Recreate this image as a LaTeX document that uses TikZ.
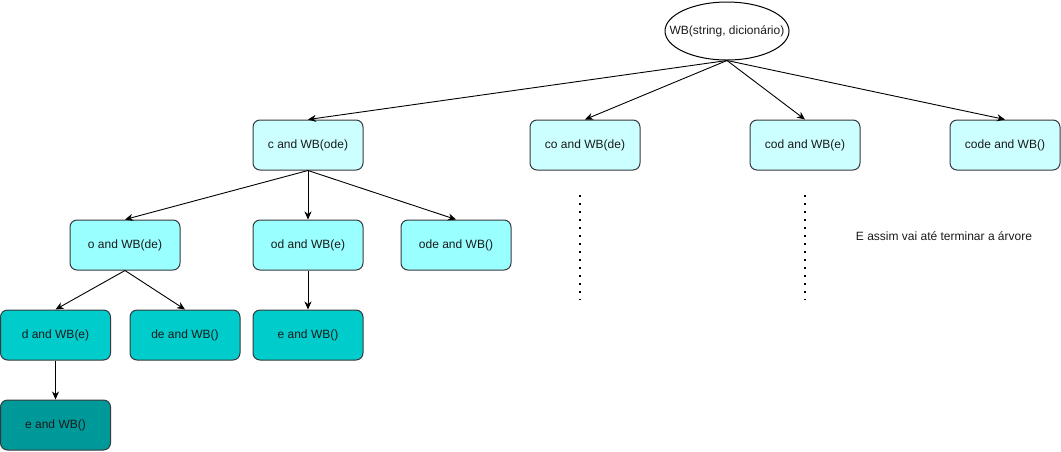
\documentclass[tikz,border=0pt]{standalone}
\usepackage{fontspec}
\setmainfont{Liberation Sans}
\usetikzlibrary{arrows.meta,shapes.geometric}
\definecolor{stroke}{HTML}{36393D}
\definecolor{cA}{HTML}{CCFFFF}
\definecolor{cB}{HTML}{99FFFF}
\definecolor{cC}{HTML}{00CCCC}
\definecolor{cD}{HTML}{009999}
\definecolor{txt}{HTML}{1A1A1A}
\tikzset{
  box/.style={draw=stroke, line width=1pt, rounded corners=7pt, minimum width=110pt, minimum height=50pt, inner sep=0pt, text=txt, font=\fontsize{12pt}{14pt}\selectfont},
  lvA/.style={box, fill=cA},
  lvB/.style={box, fill=cB},
  lvC/.style={box, fill=cC},
  lvD/.style={box, fill=cD},
  rootell/.style={draw=black, line width=1pt, ellipse, minimum width=124pt, minimum height=58pt, inner sep=0pt, font=\fontsize{12pt}{14pt}\selectfont, text=txt},
  conn/.style={draw=black, line width=0.9pt, -{Stealth[length=8pt,width=7pt,inset=2.5pt]}},
  dotline/.style={draw=black, line width=1.6pt, dash pattern=on 1.6pt off 6.4pt},
}
\begin{document}
\begin{tikzpicture}[x=1pt,y=-1pt]
\useasboundingbox (0,0) rectangle (1061,451);
\node[rootell] (wb) at (727,31) {\makebox[0pt]{WB(string, dicionário)}};
\node[lvA] (c) at (308,145) {c and WB(ode)};
\node[lvA] (co) at (585,145) {co and WB(de)};
\node[lvA] (cod) at (805,145) {cod and WB(e)};
\node[lvA] (code) at (1005,145) {code and WB()};
\node[lvB] (o) at (125,245) {o and WB(de)};
\node[lvB] (od) at (308,245) {od and WB(e)};
\node[lvB] (ode) at (456,245) {ode and WB()};
\node[lvC] (d) at (55.5,335) {d and WB(e)};
\node[lvC] (de) at (185,335) {de and WB()};
\node[lvC] (e1) at (308,335) {e and WB()};
\node[lvD] (e2) at (55.5,425) {e and WB()};
\node[font=\fontsize{12pt}{14pt}\selectfont, text=txt] (txtnote) at (944,236) {E assim vai até terminar a árvore};
\draw[conn] (wb.south) -- (c.north);
\draw[conn] (wb.south) -- (co.north);
\draw[conn] (wb.south) -- (cod.north);
\draw[conn] (wb.south) -- (code.north);
\draw[conn] (c.south) -- (o.north);
\draw[conn] (c.south) -- (od.north);
\draw[conn] (c.south) -- (ode.north);
\draw[conn] (o.south) -- (d.north);
\draw[conn] (o.south) -- (de.north);
\draw[conn] (od.south) -- (e1.north);
\draw[conn] (d.south) -- (e2.north);
\coordinate (p1a) at (580,195);
\coordinate (p1b) at (580,300);
\coordinate (p2a) at (805,195);
\coordinate (p2b) at (805,300);
\draw[dotline] (p1a) -- (p1b);
\draw[dotline] (p2a) -- (p2b);
\end{tikzpicture}
\end{document}
